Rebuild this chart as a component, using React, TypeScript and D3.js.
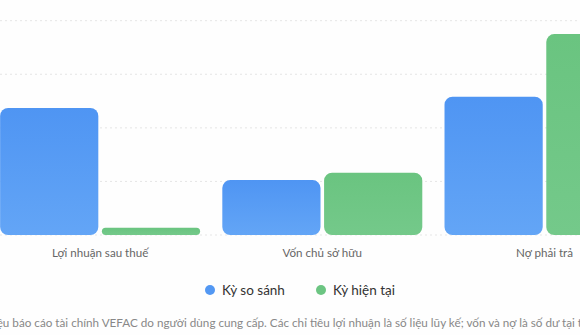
import React from "react";
import * as d3 from "d3";

const categories = ["Lợi nhuận sau thuế", "Vốn chủ sở hữu", "Nợ phải trả"];
const seriesNames = ["Kỳ so sánh", "Kỳ hiện tại"];
const compareValues = [2370, 1026, 2580];
const currentValues = [136, 1162, 3750];
const yTicks = [0, 1000, 2000, 3000, 4000];
const footnote =
  "Dữ liệu báo cáo tài chính VEFAC do người dùng cung cấp. Các chỉ tiêu lợi nhuận là số liệu lũy kế; vốn và nợ là số dư tại thời điểm báo cáo.";

const W = 580;
const H = 335;
const FONT = "Lato, 'Noto Sans', sans-serif";

export default function App() {
  const x0 = d3
    .scaleBand<string>()
    .domain(categories)
    .range([-11, 655.6])
    .paddingInner(0.1)
    .paddingOuter(0.05);
  const x1 = d3
    .scaleBand<string>()
    .domain(seriesNames)
    .range([0, x0.bandwidth()])
    .paddingInner(0.035)
    .paddingOuter(0);
  const y = d3.scaleLinear().domain([0, 4000]).range([235, 20.7]);
  const colors = ["blue", "green"];
  const legendColors = ["#5398f3", "#6cc582"];
  const data = categories.map((c, i) => ({
    cat: c,
    vals: [compareValues[i], currentValues[i]],
  }));
  const center = (-11 + 655.6) / 2;

  return (
    <div style={{ position: "absolute", left: 0, top: 0 }}>
      <svg width={W} height={H} style={{ display: "block", background: "#fefefe" }}>
        <defs>
          <linearGradient id="blue" x1="0" y1="0" x2="0" y2="1">
            <stop offset="0%" stopColor="#4f95f3" />
            <stop offset="100%" stopColor="#63a5f6" />
          </linearGradient>
          <linearGradient id="green" x1="0" y1="0" x2="0" y2="1">
            <stop offset="0%" stopColor="#6ac480" />
            <stop offset="100%" stopColor="#74c98a" />
          </linearGradient>
        </defs>
        {yTicks.map((t) => (
          <line
            key={t}
            x1={0}
            x2={W}
            y1={y(t)}
            y2={y(t)}
            stroke="#e6e6e6"
            strokeWidth={1}
            strokeDasharray="2,3"
          />
        ))}
        {data.map((d) => (
          <g key={d.cat} transform={`translate(${x0(d.cat)},0)`}>
            {d.vals.map((v, j) => {
              const h = y(0) - y(v);
              const r = Math.min(8, h / 2);
              return (
                <rect
                  key={j}
                  x={x1(seriesNames[j])}
                  y={y(v)}
                  width={x1.bandwidth()}
                  height={h}
                  rx={r}
                  ry={r}
                  fill={`url(#${colors[j]})`}
                />
              );
            })}
            <text
              x={x0.bandwidth() / 2}
              y={257}
              textAnchor="middle"
              fontFamily={FONT}
              fontSize={11.6}
              fill="#666"
            >
              {d.cat}
            </text>
          </g>
        ))}
        <g fontFamily={FONT} fontSize={13.5} fill="#333">
          {seriesNames.map((s, i) => (
            <g key={s} transform={`translate(${210 + i * 111},290)`}>
              <circle r={5} fill={legendColors[i]} />
              <text x={12} y={5}>
                {s}
              </text>
            </g>
          ))}
        </g>
        <text
          x={center}
          y={327}
          textAnchor="middle"
          fontFamily={FONT}
          fontSize={11.7}
          fill="#888"
        >
          {footnote}
        </text>
      </svg>
    </div>
  );
}
